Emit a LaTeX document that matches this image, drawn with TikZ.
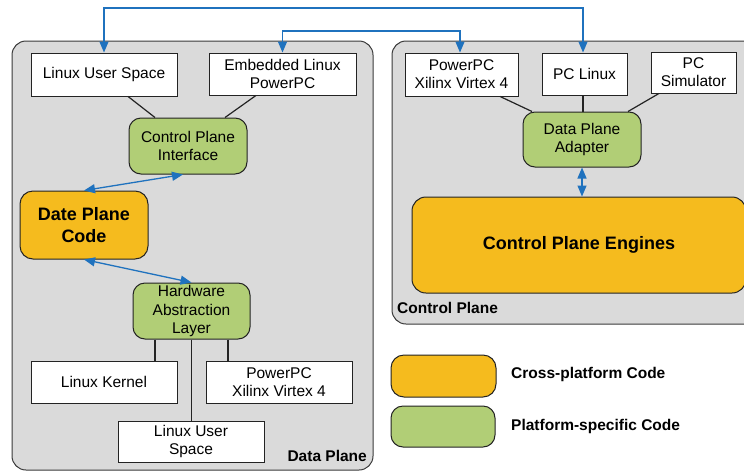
\documentclass[tikz,border=0pt]{standalone}
\usepackage{fontspec}
\setmainfont{Liberation Sans}
\usetikzlibrary{arrows.meta}
\definecolor{planegray}{RGB}{218,218,218}
\definecolor{xorange}{RGB}{245,187,30}
\definecolor{xgreen}{RGB}{177,206,118}
\definecolor{xblue}{RGB}{31,114,190}
\definecolor{xborder}{RGB}{35,35,35}
\tikzset{
  wbox/.style={draw=xborder, line width=0.9pt, fill=white, align=center, inner sep=1pt,
    font=\fontsize{15.5}{18}\selectfont},
  gbox/.style={draw=xborder, line width=1pt, fill=xgreen, rounded corners=12pt, align=center, inner sep=1pt,
    font=\fontsize{15.5}{18.5}\selectfont},
  obox/.style={draw=xborder, line width=1pt, fill=xorange, rounded corners=13pt, align=center, inner sep=1pt,
    font=\fontsize{18}{22}\selectfont\bfseries},
  plane/.style={draw=xborder!90, line width=1pt, fill=planegray, rounded corners=14pt},
  blabel/.style={font=\fontsize{15.5}{18}\selectfont\bfseries, inner sep=0pt},
  conn/.style={draw=xborder, line width=1.2pt},
  barrow/.style={draw=xblue, line width=1.3pt, {Triangle[length=11pt,width=9pt]}-{Triangle[length=11pt,width=9pt]}},
}
\begin{document}
\begin{tikzpicture}[x=1pt,y=-1pt]
\useasboundingbox (0,0) rectangle (744,472);
\clip (0,0) rectangle (744,472);
% planes
\node[plane, minimum width=361pt, minimum height=429pt] (dp) at (192.5,255.5) {};
\node[plane, minimum width=380pt, minimum height=283pt] (cp) at (582,182.5) {};
% data plane nodes
\node[wbox, minimum width=146pt, minimum height=43pt] (lus1) at (104,74.5) {Linux User Space};
\node[wbox, minimum width=147pt, minimum height=42pt] (elp) at (282.5,74) {Embedded Linux\\PowerPC};
\node[gbox, minimum width=118pt, minimum height=56pt] (cpi) at (188,146) {Control Plane\\Interface};
\node[obox, minimum width=128pt, minimum height=68pt] (dpc) at (84,225) {Date Plane\\Code};
\node[gbox, minimum width=117pt, minimum height=56pt] (hal) at (191.5,311) {Hardware\\Abstraction\\Layer};
\node[wbox, minimum width=146pt, minimum height=42pt] (lk) at (104,382) {Linux Kernel};
\node[wbox, minimum width=146pt, minimum height=42pt] (ppc2) at (279,382) {PowerPC\\Xilinx Virtex 4};
\node[wbox, minimum width=146pt, minimum height=41pt] (lus2) at (191,441.5) {Linux User\\Space};
\node[blabel, anchor=east] (dplabel) at (367,456) {Data Plane};
% control plane nodes
\node[wbox, minimum width=113pt, minimum height=43pt] (ppc1) at (461.5,74.5) {PowerPC\\Xilinx Virtex 4};
\node[wbox, minimum width=85pt, minimum height=42pt] (pcl) at (584.5,74) {PC Linux};
\node[wbox, minimum width=85pt, minimum height=41pt] (pcs) at (693.5,72.5) {PC\\Simulator};
\node[gbox, minimum width=118pt, minimum height=55pt] (dpa) at (582,139.5) {Data Plane\\Adapter};
\node[obox, minimum width=334pt, minimum height=96pt, rounded corners=14pt] (cpe) at (579,245) {Control Plane Engines};
\node[blabel, anchor=west] (cplabel) at (397,308) {Control Plane};
% legend
\node[obox, minimum width=105pt, minimum height=42pt] (lego) at (443.5,376) {};
\node[gbox, minimum width=104pt, minimum height=41pt] (legg) at (443,426.5) {};
\node[blabel, anchor=west] (legotext) at (511,374) {Cross-platform Code};
\node[blabel, anchor=west] (leggtext) at (511,426) {Platform-specific Code};
% black connectors
\draw[conn] ([xshift=24pt]lus1.south) -- ([xshift=-33pt]cpi.north);
\draw[conn] ([xshift=-26.5pt]elp.south) -- ([xshift=37pt]cpi.north);
\draw[conn] ([xshift=-36.5pt]hal.south) -- ([xshift=-36.5pt]hal.south |- lk.north);
\draw[conn] ([xshift=36.5pt]hal.south) -- ([xshift=36.5pt]hal.south |- ppc2.north);
\draw[conn] (hal.south) -- (hal.south |- lus2.north);
\draw[conn] ([xshift=38.5pt]ppc1.south) -- ([xshift=-50pt]dpa.north);
\draw[conn] ([xshift=-1.5pt]pcl.south) -- ([xshift=-1.5pt]pcl.south |- dpa.north);
\draw[conn] ([xshift=-34.5pt]pcs.south) -- ([xshift=46pt]dpa.north);
% blue arrows
\draw[barrow] (dpc.north) -- ([xshift=-5pt]cpi.south);
\draw[barrow] (dpc.south) -- (hal.north);
\draw[barrow] (dpa.south) -- (dpa.south |- cpe.north);
\draw[barrow] (lus1.north) -- (lus1.north |- 0,8) -| ([xshift=-1.5pt]pcl.north);
\draw[barrow] (elp.north) -- (elp.north |- 0,31) -| ([xshift=-1.5pt]ppc1.north);
\end{tikzpicture}
\end{document}
